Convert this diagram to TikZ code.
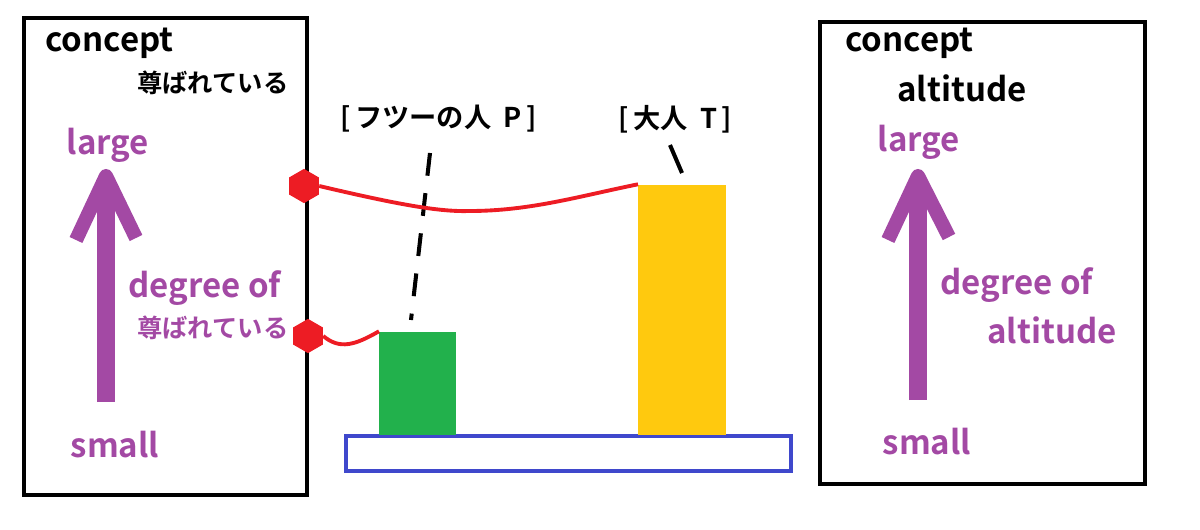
\documentclass[tikz,border=0pt]{standalone}
\usepackage{fontspec}
\setmainfont{Noto Sans CJK JP}[BoldFont={* Bold}]
\usetikzlibrary{shapes.geometric}
\definecolor{pp}{HTML}{A349A4}
\definecolor{rd}{HTML}{ED1C24}
\definecolor{gr}{HTML}{22B14C}
\definecolor{yl}{HTML}{FFC90E}
\definecolor{bl}{HTML}{3F48CC}
\tikzset{
  frame/.style={draw=black,line width=2.3pt},
  lbl/.style={inner sep=0pt,font=\bfseries\fontsize{18.8pt}{20pt}\selectfont},
  jlbl/.style={inner sep=0pt,font=\bfseries\fontsize{14.4pt}{16pt}\selectfont},
  blbl/.style={inner sep=0pt,font=\bfseries\fontsize{15.5pt}{17pt}\selectfont},
  plbl/.style={lbl,text=pp},
  pj/.style={jlbl,text=pp},
  hex/.style={regular polygon,regular polygon sides=6,shape border rotate=30,fill=rd,draw=none,minimum size=19.5pt,inner sep=0pt},
  redline/.style={draw=rd,line width=2.2pt},
  shaft/.style={draw=pp,line width=10pt},
  head/.style={draw=pp,line width=8pt,line join=round},
  ptr/.style={draw=black,line width=2.3pt}
}
\begin{document}
\begin{tikzpicture}[x=0.02cm,y=-0.02cm]
\useasboundingbox (0,0) rectangle (1200,530);
% left frame
\node[frame,minimum width=283*0.02cm,minimum height=477*0.02cm,anchor=north west,inner sep=0pt] (lf) at (22,16) {};
\node[lbl,anchor=west] (lc) at (45,43) {concept};
\node[jlbl,anchor=west] (lj) at (137,83) {尊ばれている};
\node[plbl] (llarge) at (108,145) {large};
\node[plbl,anchor=west] (ldeg) at (128,288) {degree of};
\node[pj,anchor=west] (ldj) at (137,328) {尊ばれている};
\node[plbl] (lsmall) at (115,445) {small};
\coordinate (lat) at (106,402);
\coordinate (lah) at (106,176);
\draw[shaft] (lat) -- (106,190);
\draw[head] (76,240) -- (lah) -- (136,238);
% right frame
\node[frame,minimum width=325*0.02cm,minimum height=462*0.02cm,anchor=north west,inner sep=0pt] (rf) at (818,20) {};
\node[lbl,anchor=west] (rc) at (845,43) {concept};
\node[lbl,anchor=west] (ra) at (897,88) {altitude};
\node[plbl] (rlarge) at (919,142) {large};
\node[plbl,anchor=west] (rdeg) at (940,285) {degree of};
\node[plbl,anchor=west] (rda) at (987,330) {altitude};
\node[plbl] (rsmall) at (927,442) {small};
\coordinate (rat) at (918,400);
\coordinate (rah) at (918,176);
\draw[shaft] (rat) -- (918,190);
\draw[head] (888,240) -- (rah) -- (949,237);
% base and bars
\node[draw=bl,line width=2.3pt,minimum width=445*0.02cm,minimum height=35*0.02cm,anchor=north west,inner sep=0pt] (base) at (344,434) {};
\node[fill=gr,minimum width=77*0.02cm,minimum height=103*0.02cm,anchor=south west,inner sep=0pt] (gbar) at (379,435) {};
\node[fill=yl,minimum width=88*0.02cm,minimum height=250*0.02cm,anchor=south west,inner sep=0pt] (ybar) at (638,435) {};
% labels above
\node[blbl,anchor=west] (pl) at (340,119) {[\,フツーの人\ \ P\,]};
\node[blbl,anchor=west] (tl) at (618,119) {[\,大人\ \ T\,]};
\coordinate (pd1) at (430,153);
\coordinate (pd2) at (411,320);
\draw[ptr,dash pattern=on 13pt off 10pt] (pd1) -- (pd2);
\coordinate (td1) at (670,145);
\coordinate (td2) at (682,173);
\draw[ptr] (td1) -- (td2);
% hexagons and red curves
\node[hex] (h1) at (304,186) {};
\node[hex] (h2) at (308,336) {};
\draw[redline] (h1.east) .. controls (400,205) and (440,212) .. (470,211) .. controls (530,211) and (580,196) .. (ybar.north west);
\draw[redline] (h2.east) .. controls (340,350) and (355,345) .. (gbar.north west);
\end{tikzpicture}
\end{document}
